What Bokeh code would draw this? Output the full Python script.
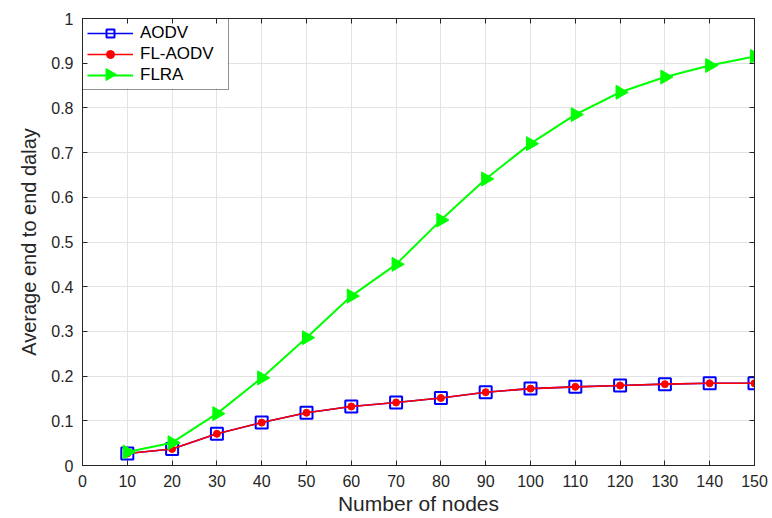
import math

from bokeh.plotting import figure
from bokeh.models import FixedTicker, LinearAxis, Legend, LegendItem
from bokeh.embed import file_html
from bokeh.resources import INLINE

# Average end-to-end delay versus network size
nodes = [10, 20, 30, 40, 50, 60, 70, 80, 90, 100, 110, 120, 130, 140, 150]
aodv = [0.027, 0.037, 0.071, 0.096, 0.118, 0.132, 0.141, 0.151, 0.164, 0.172,
        0.176, 0.179, 0.182, 0.184, 0.184]
fl_aodv = [0.027, 0.037, 0.071, 0.096, 0.118, 0.132, 0.141, 0.151, 0.164, 0.172,
           0.176, 0.179, 0.182, 0.184, 0.184]
flra = [0.030, 0.051, 0.116, 0.196, 0.286, 0.379, 0.450, 0.549, 0.641, 0.720,
        0.785, 0.835, 0.869, 0.895, 0.915]

x_ticks = [0, 10, 20, 30, 40, 50, 60, 70, 80, 90, 100, 110, 120, 130, 140, 150]
y_ticks = [0, 0.1, 0.2, 0.3, 0.4, 0.5, 0.6, 0.7, 0.8, 0.9, 1]
y_tick_labels = ["0", "0.1", "0.2", "0.3", "0.4", "0.5", "0.6", "0.7", "0.8", "0.9", "1"]

FONT = "Liberation Sans"
AXIS_COLOR = "#262626"
FRAME_W, FRAME_H = 672, 447
X0, X1, Y0, Y1 = 0, 150, 0, 1

p = figure(frame_width=FRAME_W, frame_height=FRAME_H,
           x_range=(X0, X1), y_range=(Y0, Y1),
           output_backend="svg", toolbar_location=None,
           min_border_left=82, min_border_right=18,
           min_border_top=18, min_border_bottom=53,
           x_axis_label="Number of nodes",
           y_axis_label="Average end to end dalay")

p.background_fill_color = "white"
p.border_fill_color = "white"
p.outline_line_color = AXIS_COLOR
p.outline_line_width = 1

# grid
for g in (p.xgrid, p.ygrid):
    g.grid_line_color = "#e3e3e3"
    g.grid_line_width = 1
p.xgrid.ticker = FixedTicker(ticks=x_ticks)
p.ygrid.ticker = FixedTicker(ticks=y_ticks)

# bottom / left axes
xa = p.xaxis[0]
ya = p.yaxis[0]
xa.ticker = FixedTicker(ticks=x_ticks)
ya.ticker = FixedTicker(ticks=y_ticks)
ya.major_label_overrides = {t: s for t, s in zip(y_ticks, y_tick_labels)}
for ax in (xa, ya):
    ax.axis_line_color = AXIS_COLOR
    ax.major_tick_line_color = AXIS_COLOR
    ax.major_tick_in = 5
    ax.major_tick_out = 0
    ax.minor_tick_line_color = None
    ax.major_label_text_font = FONT
    ax.major_label_text_font_size = "16px"
    ax.major_label_text_color = "#262626"
    ax.axis_label_text_font = FONT
    ax.axis_label_text_font_size = "20px"
    ax.axis_label_text_font_style = "normal"
    ax.axis_label_text_color = "#262626"
xa.axis_label_text_font_size = "21px"
xa.major_label_standoff = 9
xa.axis_label_standoff = 2
ya.major_label_standoff = 9
ya.axis_label_standoff = 8

# top / right axes: ticks only, closing the box
top = LinearAxis(ticker=FixedTicker(ticks=x_ticks))
right = LinearAxis(ticker=FixedTicker(ticks=y_ticks))
for ax in (top, right):
    ax.axis_line_color = AXIS_COLOR
    ax.major_tick_line_color = AXIS_COLOR
    ax.major_tick_in = 5
    ax.major_tick_out = 0
    ax.minor_tick_line_color = None
    ax.major_label_text_font_size = "0px"
    ax.major_label_standoff = 0
p.add_layout(top, "above")
p.add_layout(right, "right")

# legend box geometry (pixels)
PAD, ROW_H, GLYPH_W, SPACING, STANDOFF, LABEL_W = 4, 20, 46, 1, 7, 84
BOX_W = 2 * PAD + GLYPH_W + STANDOFF + LABEL_W
BOX_H = 2 * PAD + 3 * ROW_H + 2 * SPACING

def px_to_x(px):
    return X0 + px / FRAME_W * (X1 - X0)

def py_to_y(py):
    return Y1 - py / FRAME_H * (Y1 - Y0)

# white backing for the legend, hiding the grid beneath it
p.quad(left=[px_to_x(0)], right=[px_to_x(BOX_W)],
       top=[py_to_y(0)], bottom=[py_to_y(BOX_H)],
       fill_color="white", line_color=None)

# series
l1 = p.line(nodes, aodv, line_color="#0000ff", line_width=1.6)
m1 = p.scatter(nodes, aodv, marker="square", size=12, fill_color=None,
               line_color="#0000ff", line_width=2)
l2 = p.line(nodes, fl_aodv, line_color="#ff0000", line_width=1.6)
m2 = p.scatter(nodes, fl_aodv, marker="circle", size=7, fill_color="#ff0000",
               line_color="#ff0000")
l3 = p.line(nodes, flra, line_color="#00ff00", line_width=2)
m3 = p.scatter(nodes, flra, marker="triangle", size=14, angle=-math.pi / 2,
               fill_color="#00ff00", line_color="#00ff00")

# right-pointing key marker for the FLRA legend entry (legend keys ignore angle)
p.scatter([px_to_x(PAD + GLYPH_W / 2)],
          [py_to_y(PAD + 2 * (ROW_H + SPACING) + ROW_H / 2)],
          marker="triangle", size=12, angle=-math.pi / 2,
          fill_color="#00ff00", line_color="#00ff00")

legend = Legend(items=[
    LegendItem(label="AODV", renderers=[l1, m1]),
    LegendItem(label="FL-AODV", renderers=[l2, m2]),
    LegendItem(label="FLRA", renderers=[l3]),
], location="top_left")
legend.margin = 0
legend.padding = PAD
legend.spacing = SPACING
legend.label_height = ROW_H
legend.label_width = LABEL_W
legend.glyph_height = ROW_H
legend.glyph_width = GLYPH_W
legend.label_standoff = STANDOFF
legend.label_text_font = FONT
legend.label_text_font_size = "17px"
legend.label_text_color = "#000000"
legend.border_line_color = AXIS_COLOR
legend.border_line_width = 1
legend.background_fill_alpha = 0
p.add_layout(legend)

open("out.html", "w").write(file_html(p, INLINE))
